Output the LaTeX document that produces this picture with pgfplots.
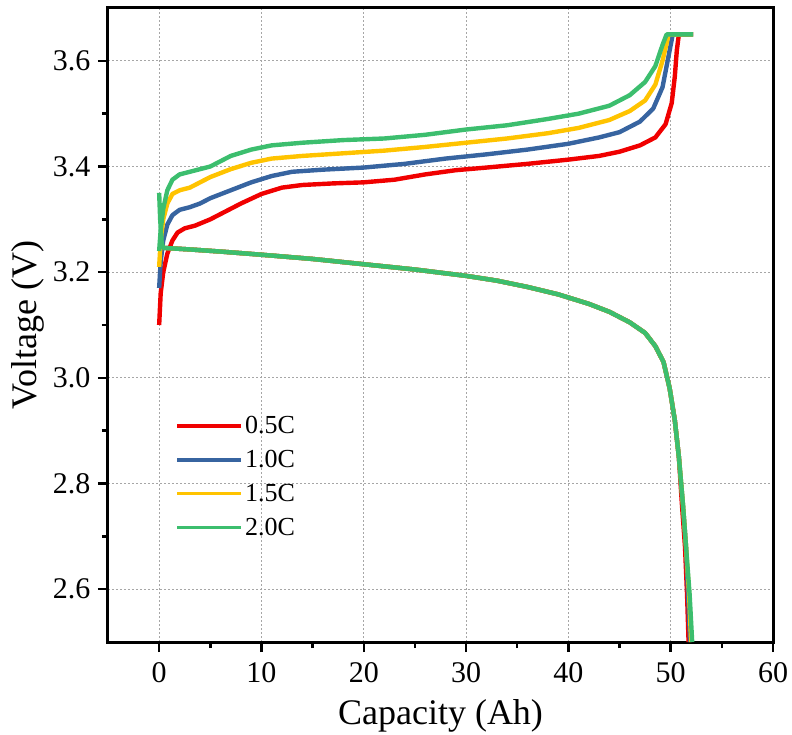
\documentclass[border=0pt]{standalone}
\usepackage{fontspec}
\setmainfont{Liberation Serif}
\usepackage{pgfplots}
\pgfplotsset{compat=1.18}
\definecolor{cred}{RGB}{240,0,0}
\definecolor{cblue}{RGB}{55,100,160}
\definecolor{cyellow}{RGB}{255,195,0}
\definecolor{cgreen}{RGB}{60,190,110}
\begin{document}
\begin{tikzpicture}
\begin{axis}[
    scale only axis,
    width=665pt, height=634pt,
    xmin=-5, xmax=60, ymin=2.5, ymax=3.7,
    xtick={0,10,...,60},
    ytick={2.6,2.8,...,3.61},
    minor x tick num=1, minor y tick num=1,
    /pgf/number format/assume math mode=true,
    tick label style={font=\fontsize{30}{34}\selectfont},
    xticklabel style={yshift=-7pt},
    yticklabel style={xshift=-4pt, /pgf/number format/.cd, fixed, fixed zerofill, precision=1},
    xlabel={Capacity (Ah)}, ylabel={Voltage (V)},
    every axis x label/.style={at={(rel axis cs:0.5,-0.117)}, anchor=center, font=\fontsize{36}{40}\selectfont},
    every axis y label/.style={at={(rel axis cs:-0.12,0.5)}, rotate=90, anchor=center, font=\fontsize{36}{40}\selectfont},
    axis line style={line width=3pt},
    tick style={line width=2.5pt, black},
    major tick length=10pt, minor tick length=6pt,
    tick align=outside,
    xtick pos=bottom, ytick pos=left,
    grid=major,
    major grid style={gray!70, line width=0.8pt, dash pattern=on 2pt off 2pt},
    legend style={at={(0.097,0.362)}, anchor=north west, draw=none, fill=none,
        font=\fontsize{26}{29}\selectfont, row sep=11pt},
    legend cell align=left,
    legend image code/.code={\draw[#1, line width=3.5pt] (0cm,0cm) -- (2.25cm,0cm);},
    every axis plot/.append style={line width=4.4pt, line join=round},
]
% charge curves
\addplot[cred] coordinates {(0,3.10) (0.15,3.16) (0.4,3.20) (0.8,3.235) (1.3,3.26) (1.8,3.275) (2.5,3.283) (3.5,3.288) (5,3.30) (6.5,3.315) (8,3.33) (10,3.348) (12,3.36) (14,3.365) (17,3.368) (20,3.370) (23,3.375) (26,3.385) (29,3.393) (32,3.398) (36,3.405) (40,3.413) (43,3.42) (45,3.428) (47,3.44) (48.5,3.455) (49.5,3.48) (50.1,3.52) (50.4,3.57) (50.6,3.62) (50.8,3.65) (52.2,3.65)};
\addplot[cblue] coordinates {(0,3.17) (0.15,3.22) (0.4,3.26) (0.8,3.29) (1.3,3.308) (2,3.318) (3,3.323) (4,3.33) (5,3.34) (7,3.355) (9,3.37) (11,3.382) (13,3.39) (16,3.394) (20,3.398) (24,3.405) (28,3.415) (32,3.423) (36,3.432) (40,3.443) (43,3.455) (45,3.465) (47,3.485) (48.3,3.51) (49.2,3.55) (49.7,3.6) (50.2,3.65) (52.2,3.65)};
\addplot[cyellow] coordinates {(0,3.21) (0.15,3.26) (0.4,3.30) (0.8,3.33) (1.3,3.348) (2,3.355) (3,3.36) (4,3.37) (5,3.38) (7,3.395) (9,3.407) (11,3.415) (14,3.42) (18,3.425) (22,3.43) (26,3.437) (30,3.445) (34,3.453) (38,3.463) (41,3.473) (44,3.488) (46,3.505) (47.5,3.525) (48.5,3.555) (49.2,3.6) (49.8,3.65) (52.2,3.65)};
\addplot[cgreen] coordinates {(0,3.24) (0.15,3.28) (0.4,3.32) (0.8,3.355) (1.3,3.375) (2,3.385) (3,3.39) (4,3.395) (5,3.40) (7,3.42) (9,3.432) (11,3.44) (14,3.445) (18,3.45) (22,3.453) (26,3.46) (30,3.47) (34,3.478) (38,3.49) (41,3.50) (44,3.515) (46,3.535) (47.5,3.56) (48.5,3.59) (49.2,3.63) (49.6,3.65) (52.2,3.65)};
\legend{0.5C, 1.0C, 1.5C, 2.0C}
% discharge curves
\addplot[cred, forget plot] coordinates {(0.4,3.246) (3,3.243) (6,3.239) (10,3.233) (15,3.225) (20,3.215) (25,3.205) (30,3.193) (33,3.184) (36,3.172) (39,3.158) (42,3.14) (44,3.125) (46,3.105) (47.5,3.085) (48.5,3.06) (49.3,3.03) (49.9,2.98) (50.4,2.92) (50.8,2.85) (51.1,2.76) (51.4,2.68) (51.6,2.59) (51.75,2.5)};
\addplot[cblue, forget plot] coordinates {(0.4,3.246) (3,3.243) (6,3.239) (10,3.233) (15,3.225) (20,3.215) (25,3.205) (30,3.193) (33,3.184) (36,3.172) (39,3.158) (42,3.14) (44,3.125) (46,3.105) (47.5,3.085) (48.5,3.06) (49.3,3.03) (49.9,2.98) (50.4,2.92) (50.8,2.85) (51.2,2.76) (51.5,2.68) (51.7,2.59) (51.9,2.5)};
\addplot[cyellow, forget plot] coordinates {(0.4,3.246) (3,3.243) (6,3.239) (10,3.233) (15,3.225) (20,3.215) (25,3.205) (30,3.193) (33,3.184) (36,3.172) (39,3.158) (42,3.14) (44,3.125) (46,3.105) (47.5,3.085) (48.5,3.06) (49.3,3.03) (49.9,2.98) (50.4,2.92) (50.8,2.85) (51.2,2.76) (51.5,2.68) (51.8,2.59) (52.0,2.5)};
\addplot[cgreen, forget plot] coordinates {(0,3.35) (0.1,3.30) (0.25,3.255) (0.4,3.246) (3,3.243) (6,3.239) (10,3.233) (15,3.225) (20,3.215) (25,3.205) (30,3.193) (33,3.184) (36,3.172) (39,3.158) (42,3.14) (44,3.125) (46,3.105) (47.5,3.085) (48.5,3.06) (49.3,3.03) (49.9,2.98) (50.4,2.92) (50.8,2.85) (51.2,2.76) (51.5,2.68) (51.85,2.59) (52.1,2.5)};
\coordinate (o) at (rel axis cs:0,0);
\coordinate (t) at (rel axis cs:1,1);
\end{axis}
\path (o) ++(-108pt,-92pt) coordinate (a);
\path (t) ++(19pt,8pt) coordinate (b);
\pgfresetboundingbox
\path[use as bounding box] (a) rectangle (b);
\end{tikzpicture}
\end{document}
